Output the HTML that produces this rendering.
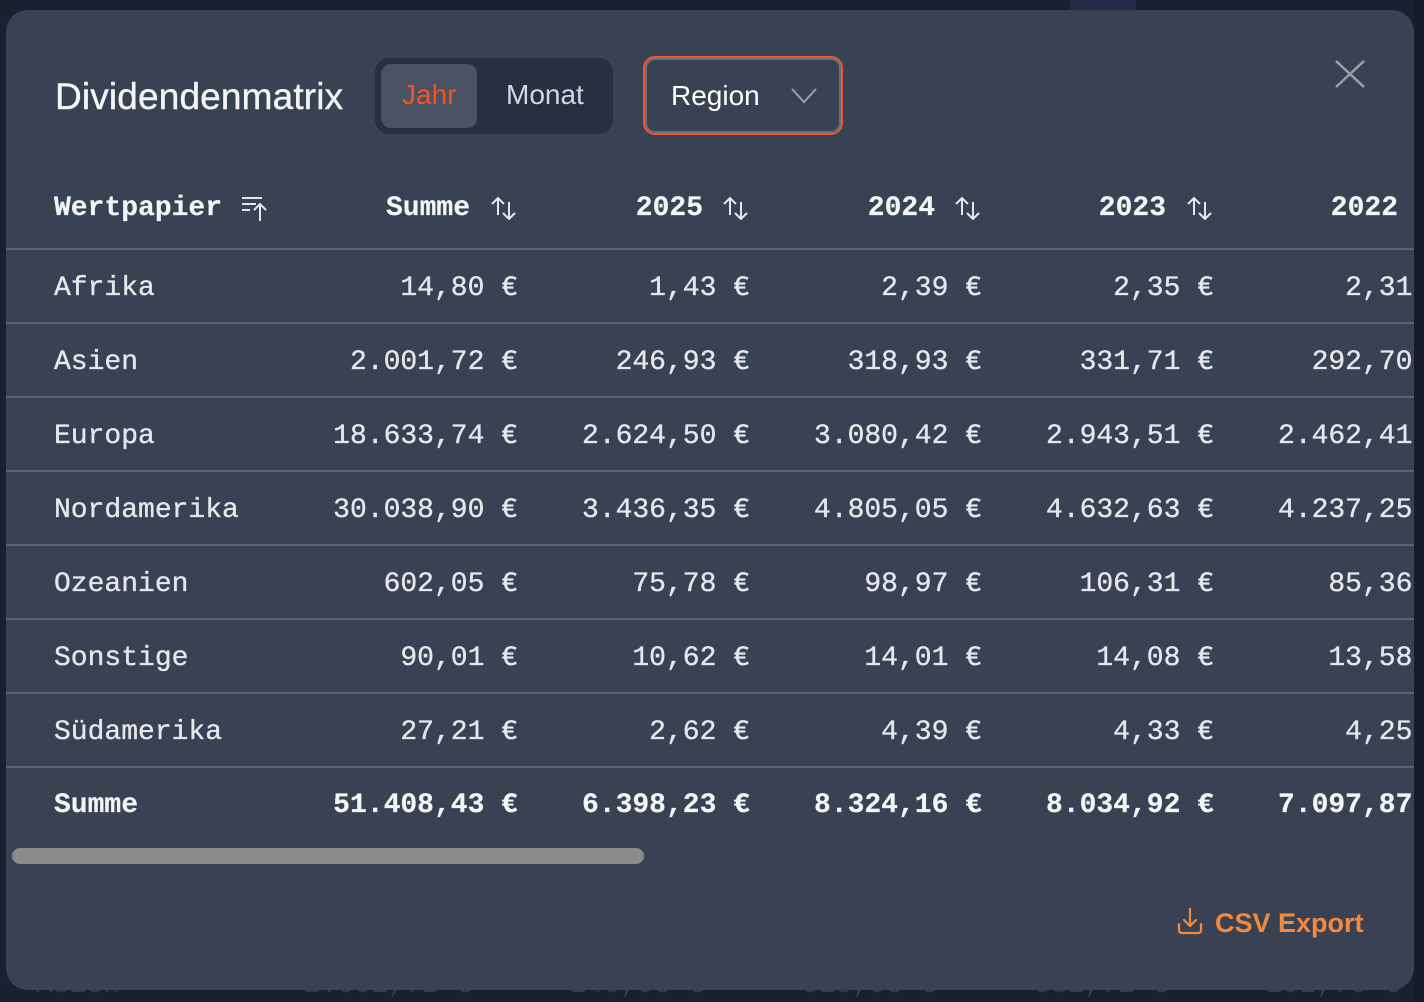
<!DOCTYPE html>
<html>
<head>
<meta charset="utf-8">
<style>
  html,body{margin:0;padding:0;}
  body{width:1424px;height:1002px;background:#1a2030;position:relative;overflow:hidden;font-family:"Liberation Sans",sans-serif;}
  .rstrip{position:absolute;left:1414px;top:0;width:10px;height:1002px;background:#171c2b;}
  .bgtxt{position:absolute;top:972px;font-family:"Liberation Mono",monospace;font-size:28px;line-height:28px;color:#333a4a;white-space:nowrap;}
  .modal{position:absolute;left:6px;top:10px;width:1408px;height:980px;background:#394253;border-radius:22px;overflow:hidden;}
  .abs{position:absolute;white-space:nowrap;}
  .title{left:49px;top:68px;font-size:37px;line-height:37px;letter-spacing:0.15px;color:#f3f4f6;-webkit-text-stroke:0.4px #f3f4f6;}
  .toggle{left:369px;top:48px;width:238px;height:76px;background:#272f40;border-radius:14px;}
  .active{left:375px;top:54px;width:96px;height:64px;background:#4a5263;border-radius:10px;}
  .tg{font-size:28px;line-height:28px;top:71px;}
  .region{left:637px;top:46px;width:196px;height:75px;border:2px solid #e8592c;border-radius:12px;box-shadow:inset 0 0 0 2px #676e7c;}
  .mono{font-family:"Liberation Mono",monospace;font-size:28px;line-height:28px;color:#e5e7eb;-webkit-text-stroke:0.35px #e5e7eb;}
  .hd{font-weight:bold;color:#f3f4f6;-webkit-text-stroke:0.2px #f3f4f6;}
  .r{width:232px;text-align:right;}
  .line{position:absolute;left:0;width:1408px;height:2px;background:#5b6473;}
  .scroll{left:6px;top:838px;width:632px;height:16px;background:#8b8b8b;border-radius:8px;}
  .csv{left:1209px;top:900px;font-size:27px;line-height:27px;font-weight:bold;color:#f5883f;}
</style>
</head>
<body>
  <div class="rstrip"></div>
  <div style="position:absolute;left:1070px;top:0;width:66px;height:12px;background:#242947;"></div>
  <div class="bgtxt" style="left:36px;">Asien</div>
  <div class="bgtxt" style="left:304px;">2.001,72 €</div>
  <div class="bgtxt" style="left:570px;">246,93 €</div>
  <div class="bgtxt" style="left:802px;">318,93 €</div>
  <div class="bgtxt" style="left:1034px;">331,71 €</div>
  <div class="bgtxt" style="left:1266px;">292,70 €</div>

  <div class="modal">
    <div class="abs title">Dividendenmatrix</div>
    <div class="abs toggle"></div>
    <div class="abs active"></div>
    <div class="abs tg" style="left:396px;color:#f4541f;">Jahr</div>
    <div class="abs tg" style="left:500px;color:#d4d7dd;">Monat</div>
    <div class="abs region"></div>
    <div class="abs tg" style="left:665px;top:72px;color:#ffffff;">Region</div>
    <svg class="abs" style="left:784px;top:77px;" width="28" height="18" viewBox="0 0 28 18">
      <polyline points="2,2 14,15 26,2" fill="none" stroke="#9aa1ad" stroke-width="2"/>
    </svg>
    <svg class="abs" style="left:1328px;top:49px;" width="32" height="30" viewBox="0 0 32 30">
      <line x1="2" y1="2" x2="30" y2="28" stroke="#9aa0aa" stroke-width="2.5"/>
      <line x1="30" y1="2" x2="2" y2="28" stroke="#9aa0aa" stroke-width="2.5"/>
    </svg>

    <!-- header -->
    <div class="abs mono hd" style="left:48px;top:185px;">Wertpapier</div>
    <svg class="abs" style="left:235px;top:186px;" width="28" height="26" viewBox="0 0 28 26">
      <line x1="1" y1="2" x2="21" y2="2" stroke="#e5e7eb" stroke-width="2"/>
      <line x1="1" y1="8" x2="15" y2="8" stroke="#e5e7eb" stroke-width="2"/>
      <line x1="1" y1="14" x2="9" y2="14" stroke="#e5e7eb" stroke-width="2"/>
      <line x1="19" y1="8" x2="19" y2="25" stroke="#e5e7eb" stroke-width="2"/>
      <polyline points="13,14 19,8 25,14" fill="none" stroke="#e5e7eb" stroke-width="2"/>
    </svg>

    <div class="abs mono hd r" style="left:232px;top:185px;">Summe</div>
    <div class="abs mono hd r" style="left:465px;top:185px;">2025</div>
    <div class="abs mono hd r" style="left:697px;top:185px;">2024</div>
    <div class="abs mono hd r" style="left:928px;top:185px;">2023</div>
    <div class="abs mono hd r" style="left:1160px;top:185px;">2022</div>

    <svg class="abs" style="left:484px;top:186px;" width="28" height="26" viewBox="0 0 28 26"><g fill="none" stroke="#e5e7eb" stroke-width="2"><line x1="8" y1="2" x2="8" y2="19"/><polyline points="2,8 8,2 14,8"/><line x1="19" y1="6" x2="19" y2="23"/><polyline points="13,17 19,23 25,17"/></g></svg>
    <svg class="abs" style="left:716px;top:186px;" width="28" height="26" viewBox="0 0 28 26"><g fill="none" stroke="#e5e7eb" stroke-width="2"><line x1="8" y1="2" x2="8" y2="19"/><polyline points="2,8 8,2 14,8"/><line x1="19" y1="6" x2="19" y2="23"/><polyline points="13,17 19,23 25,17"/></g></svg>
    <svg class="abs" style="left:948px;top:186px;" width="28" height="26" viewBox="0 0 28 26"><g fill="none" stroke="#e5e7eb" stroke-width="2"><line x1="8" y1="2" x2="8" y2="19"/><polyline points="2,8 8,2 14,8"/><line x1="19" y1="6" x2="19" y2="23"/><polyline points="13,17 19,23 25,17"/></g></svg>
    <svg class="abs" style="left:1180px;top:186px;" width="28" height="26" viewBox="0 0 28 26"><g fill="none" stroke="#e5e7eb" stroke-width="2"><line x1="8" y1="2" x2="8" y2="19"/><polyline points="2,8 8,2 14,8"/><line x1="19" y1="6" x2="19" y2="23"/><polyline points="13,17 19,23 25,17"/></g></svg>

    <!-- lines -->
    <div class="line" style="top:238px;"></div>
    <div class="line" style="top:312px;"></div>
    <div class="line" style="top:386px;"></div>
    <div class="line" style="top:460px;"></div>
    <div class="line" style="top:534px;"></div>
    <div class="line" style="top:608px;"></div>
    <div class="line" style="top:682px;"></div>
    <div class="line" style="top:756px;"></div>

    <!-- row 1 -->
    <div class="abs mono" style="left:48px;top:265px;">Afrika</div>
    <div class="abs mono r" style="left:280px;top:265px;">14,80 €</div>
    <div class="abs mono r" style="left:512px;top:265px;">1,43 €</div>
    <div class="abs mono r" style="left:744px;top:265px;">2,39 €</div>
    <div class="abs mono r" style="left:976px;top:265px;">2,35 €</div>
    <div class="abs mono r" style="left:1208px;top:265px;">2,31 €</div>
    <!-- row 2 -->
    <div class="abs mono" style="left:48px;top:339px;">Asien</div>
    <div class="abs mono r" style="left:280px;top:339px;">2.001,72 €</div>
    <div class="abs mono r" style="left:512px;top:339px;">246,93 €</div>
    <div class="abs mono r" style="left:744px;top:339px;">318,93 €</div>
    <div class="abs mono r" style="left:976px;top:339px;">331,71 €</div>
    <div class="abs mono r" style="left:1208px;top:339px;">292,70 €</div>
    <!-- row 3 -->
    <div class="abs mono" style="left:48px;top:413px;">Europa</div>
    <div class="abs mono r" style="left:280px;top:413px;">18.633,74 €</div>
    <div class="abs mono r" style="left:512px;top:413px;">2.624,50 €</div>
    <div class="abs mono r" style="left:744px;top:413px;">3.080,42 €</div>
    <div class="abs mono r" style="left:976px;top:413px;">2.943,51 €</div>
    <div class="abs mono r" style="left:1208px;top:413px;">2.462,41 €</div>
    <!-- row 4 -->
    <div class="abs mono" style="left:48px;top:487px;">Nordamerika</div>
    <div class="abs mono r" style="left:280px;top:487px;">30.038,90 €</div>
    <div class="abs mono r" style="left:512px;top:487px;">3.436,35 €</div>
    <div class="abs mono r" style="left:744px;top:487px;">4.805,05 €</div>
    <div class="abs mono r" style="left:976px;top:487px;">4.632,63 €</div>
    <div class="abs mono r" style="left:1208px;top:487px;">4.237,25 €</div>
    <!-- row 5 -->
    <div class="abs mono" style="left:48px;top:561px;">Ozeanien</div>
    <div class="abs mono r" style="left:280px;top:561px;">602,05 €</div>
    <div class="abs mono r" style="left:512px;top:561px;">75,78 €</div>
    <div class="abs mono r" style="left:744px;top:561px;">98,97 €</div>
    <div class="abs mono r" style="left:976px;top:561px;">106,31 €</div>
    <div class="abs mono r" style="left:1208px;top:561px;">85,36 €</div>
    <!-- row 6 -->
    <div class="abs mono" style="left:48px;top:635px;">Sonstige</div>
    <div class="abs mono r" style="left:280px;top:635px;">90,01 €</div>
    <div class="abs mono r" style="left:512px;top:635px;">10,62 €</div>
    <div class="abs mono r" style="left:744px;top:635px;">14,01 €</div>
    <div class="abs mono r" style="left:976px;top:635px;">14,08 €</div>
    <div class="abs mono r" style="left:1208px;top:635px;">13,58 €</div>
    <!-- row 7 -->
    <div class="abs mono" style="left:48px;top:709px;">Südamerika</div>
    <div class="abs mono r" style="left:280px;top:709px;">27,21 €</div>
    <div class="abs mono r" style="left:512px;top:709px;">2,62 €</div>
    <div class="abs mono r" style="left:744px;top:709px;">4,39 €</div>
    <div class="abs mono r" style="left:976px;top:709px;">4,33 €</div>
    <div class="abs mono r" style="left:1208px;top:709px;">4,25 €</div>
    <!-- sum -->
    <div class="abs mono hd" style="left:48px;top:782px;">Summe</div>
    <div class="abs mono hd r" style="left:280px;top:782px;">51.408,43 €</div>
    <div class="abs mono hd r" style="left:512px;top:782px;">6.398,23 €</div>
    <div class="abs mono hd r" style="left:744px;top:782px;">8.324,16 €</div>
    <div class="abs mono hd r" style="left:976px;top:782px;">8.034,92 €</div>
    <div class="abs mono hd r" style="left:1208px;top:782px;">7.097,87 €</div>

    <div class="abs scroll"></div>

    <svg class="abs" style="left:1170px;top:897px;" width="30" height="30" viewBox="0 0 30 30">
      <g fill="none" stroke="#f5883f" stroke-width="2.2" stroke-linecap="round" stroke-linejoin="round">
        <line x1="14" y1="2" x2="14" y2="19"/>
        <polyline points="8,13 14,19 20,13"/>
        <path d="M3,17 V23 Q3,26 6,26 H22 Q25,26 25,23 V17"/>
      </g>
    </svg>
    <div class="abs csv">CSV Export</div>
  </div>
</body>
</html>
